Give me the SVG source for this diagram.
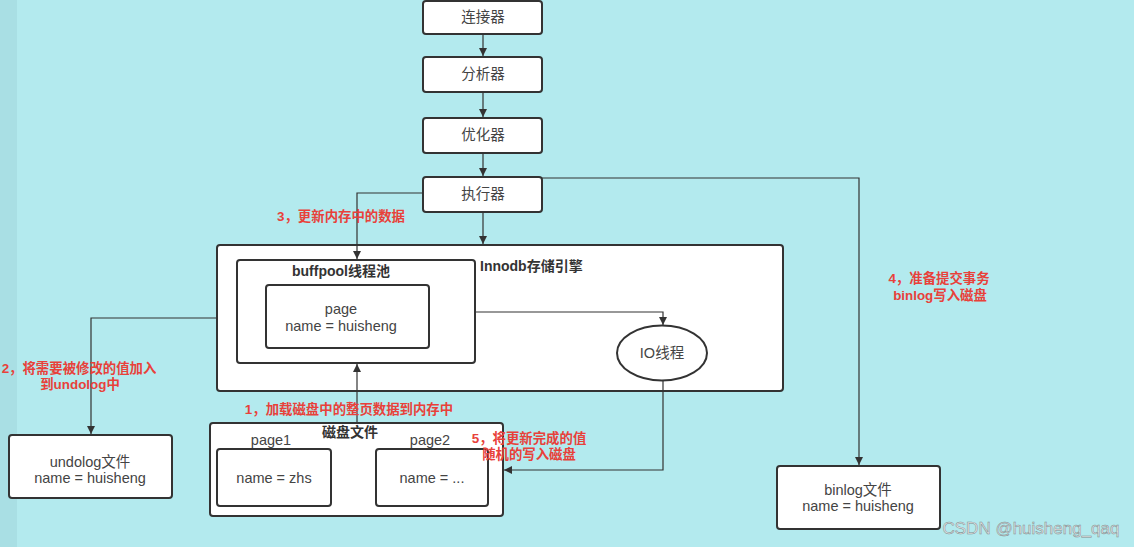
<svg xmlns="http://www.w3.org/2000/svg" width="1134" height="547" viewBox="0 0 1134 547">
<defs>
<marker id="arr" markerWidth="10" markerHeight="10" refX="9" refY="5" orient="auto" markerUnits="userSpaceOnUse">
<path d="M1,1 L9,5 L1,9 Z" fill="#333"/>
</marker>
<style>
.box{fill:#fff;stroke:#333;stroke-width:2}
.t{font-family:"Liberation Sans","Noto Sans CJK SC",sans-serif;font-size:14.5px;fill:#444;text-anchor:middle}
.b{font-family:"Liberation Sans","Noto Sans CJK SC",sans-serif;font-size:14px;font-weight:bold;fill:#333}
.r{font-family:"Liberation Sans","Noto Sans CJK SC",sans-serif;font-size:13.4px;font-weight:bold;fill:#e8413a;text-anchor:middle}
.c{fill:none;stroke:#333;stroke-width:1.2}
</style>
</defs>
<rect width="1134" height="547" fill="#b3eaee"/>
<rect width="17" height="547" fill="#a9dfe4"/>

<g id="n-connector"><rect class="box" x="423" y="1" width="119" height="33" rx="3"/><text class="t" x="483" y="22">连接器</text></g>
<g id="n-analyzer"><rect class="box" x="423" y="57" width="119" height="35" rx="3"/><text class="t" x="483" y="79">分析器</text></g>
<g id="n-optimizer"><rect class="box" x="423" y="118" width="119" height="35" rx="3"/><text class="t" x="483" y="140">优化器</text></g>
<g id="n-executor"><rect class="box" x="423" y="177" width="119" height="35" rx="3"/><text class="t" x="483" y="199">执行器</text></g>

<g id="n-innodb"><rect class="box" x="217" y="245" width="566" height="146" rx="3"/><text class="b" x="480" y="271">Innodb存储引擎</text></g>
<g id="n-buffpool"><rect class="box" x="237" y="260" width="238" height="103" rx="3"/><text class="b" x="341" y="276" text-anchor="middle">buffpool线程池</text></g>
<g id="n-page"><rect class="box" x="266" y="285" width="163" height="63" rx="3"/><text class="t" x="341" y="314">page</text><text class="t" x="341" y="331">name = huisheng</text></g>
<g id="n-io"><ellipse cx="662" cy="353" rx="45" ry="27.5" fill="#fff" stroke="#333" stroke-width="2"/><text class="t" x="662" y="358">IO线程</text></g>

<g id="n-undolog"><rect class="box" x="9" y="435" width="163" height="63" rx="3"/><text class="t" x="90" y="467">undolog文件</text><text class="t" x="90" y="483">name = huisheng</text></g>

<g id="n-disk"><rect class="box" x="210" y="423" width="293" height="93" rx="3"/><text class="b" x="350" y="437" text-anchor="middle">磁盘文件</text>
<text class="t" x="271" y="445">page1</text><text class="t" x="430" y="445">page2</text></g>
<g id="n-page1"><rect class="box" x="217" y="449" width="114" height="57" rx="3"/><text class="t" x="274" y="483">name = zhs</text></g>
<g id="n-page2"><rect class="box" x="376" y="449" width="112" height="57" rx="3"/><text class="t" x="432" y="483">name = ...</text></g>

<g id="n-binlog"><rect class="box" x="777" y="466" width="163" height="63" rx="3"/><text class="t" x="858" y="495">binlog文件</text><text class="t" x="858" y="511">name = huisheng</text></g>

<g id="connectors">
<path class="c" d="M483,34 V56" marker-end="url(#arr)"/>
<path class="c" d="M483,92 V117" marker-end="url(#arr)"/>
<path class="c" d="M483,153 V176" marker-end="url(#arr)"/>
<path class="c" d="M483,212 V244" marker-end="url(#arr)"/>
<path class="c" d="M423,193 H357 V259" marker-end="url(#arr)"/>
<path class="c" d="M542,178 H859 V465" marker-end="url(#arr)"/>
<path class="c" d="M217,318 H91 V434" marker-end="url(#arr)"/>
<path class="c" d="M476,312 H663 V325" marker-end="url(#arr)"/>
<path class="c" d="M663,381 V470 H504" marker-end="url(#arr)"/>
<path class="c" d="M357,422 V364" marker-end="url(#arr)"/>
</g>

<g id="labels">
<text class="r" x="341" y="221">3，更新内存中的数据</text>
<text class="r" x="79" y="373">2，将需要被修改的值加入</text>
<text class="r" x="80" y="389">到undolog中</text>
<text class="r" x="349" y="414">1，加载磁盘中的整页数据到内存中</text>
<text class="r" x="529" y="443">5，将更新完成的值</text>
<text class="r" x="529" y="459">随机的写入磁盘</text>
<text class="r" x="939" y="283">4，准备提交事务</text>
<text class="r" x="940" y="300">binlog写入磁盘</text>
</g>
<text x="1031" y="534" text-anchor="middle" font-family="'Liberation Sans','Noto Sans CJK SC',sans-serif" font-size="17" fill="#e6e6e6" stroke="#7d8b8d" stroke-width="0.5">CSDN @huisheng_qaq</text>
</svg>
